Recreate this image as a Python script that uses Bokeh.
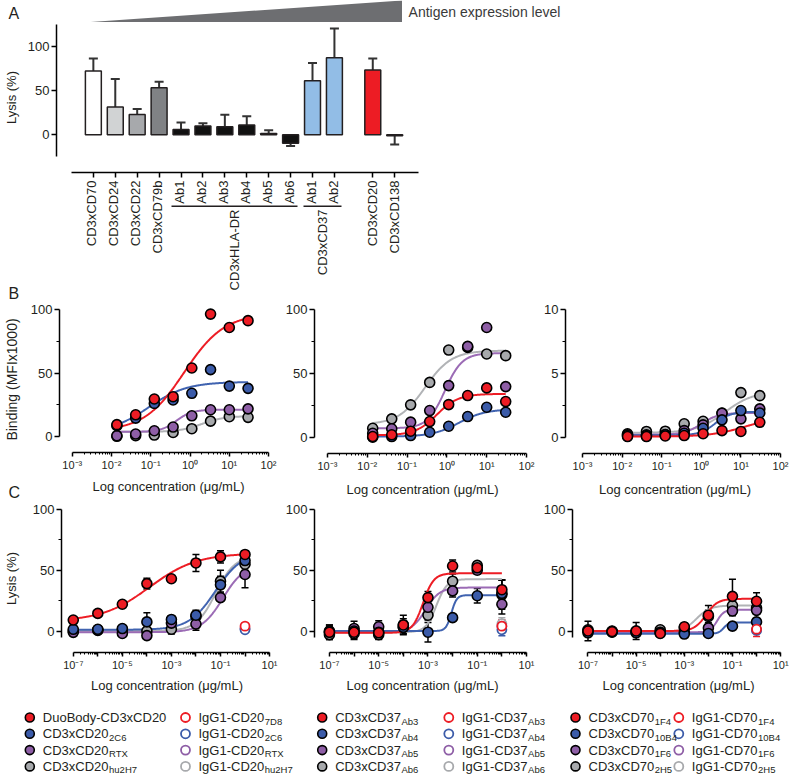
import math
import numpy as np
from bokeh.plotting import figure
from bokeh.models import (Range1d, FixedTicker, CustomJSTickFormatter, Whisker, TeeHead,
                          ColumnDataSource)
from bokeh.layouts import row, column
from bokeh.embed import file_html
from bokeh.resources import INLINE
from bokeh.core.properties import value

FONT = "Liberation Sans"
INK = "#231f20"

# ---------------- DATA ----------------
# Panel A: lysis (%) per bispecific antibody
a_labels = ["CD3xCD70", "CD3xCD24", "CD3xCD22", "CD3xCD79b", "Ab1", "Ab2", "Ab3", "Ab4",
            "Ab5", "Ab6", "Ab1", "Ab2", "CD3xCD20", "CD3xCD138"]
a_slots = [0, 1, 2, 3, 4, 5, 6, 7, 8, 9, 10, 11, 12.75, 13.75]
a_lysis = [72, 31.5, 23, 53, 6, 10, 9, 11, 1.5, -9.5, 61, 87, 73, -1]
a_sd = [14, 31.5, 6, 7, 8, 3, 13.5, 10, 3.5, 3, 20, 33, 13, 10]
a_group_names = ["CD3xHLA-DR", "CD3xCD37"]
a_group_first = [4, 10]
a_group_last = [9, 11]
a_yticks = [0, 50, 100]
a_gradient_text = "Antigen expression level"

# Panel B: binding (MFI x1000), 3-fold dilutions (ug/mL)
b_conc = [0.0137, 0.0412, 0.123, 0.370, 1.11, 3.33, 10.0, 30.0]
b1_vals = {"red": [9.2, 17, 29.5, 31.3, 54, 96.6, 86, 91.4],
           "blue": [8.4, 14.4, 26, 28.7, 34, 52.7, 39.7, 37.9],
           "purple": [0.5, 1.8, 4.4, 7.3, 16.2, 21, 21, 21.7],
           "gray": [0, 0.5, 1, 3, 6, 12, 15.5, 15]}
b1_fit = {"red": (4, 97, -0.15, 0.85), "blue": (3, 43, -1.05, 0.9),
          "purple": (3.5, 21, -0.35, 2.2), "gray": (3.5, 16, 0.3, 1.5)}
b2_vals = {"red": [0.5, 1.9, 4.7, 12.3, 25.6, 32.7, 38.7, 28],
           "blue": [0, 0.5, 1.3, 3.9, 8.6, 16.2, 23.5, 19.6],
           "purple": [3.1, 6.6, 11.8, 20.9, 40.5, 71.3, 86.1, 39.7],
           "gray": [7, 14.4, 25.4, 43, 68.4, 70.5, 65.3, 64]}
b2_fit = {"red": (1.5, 34, -0.25, 1.6), "blue": (0.5, 22, 0.3, 1.3),
          "purple": (7, 66, -0.05, 2.0), "gray": (10, 68, -0.55, 1.3)}
b3_vals = {"red": [0.05, 0.05, 0.1, 0.13, 0.27, 0.52, 0.45, 1.17],
           "blue": [0.13, 0.13, 0.19, 0.31, 0.7, 1.36, 2.09, 1.9],
           "purple": [0.19, 0.19, 0.21, 0.52, 0.97, 1.88, 1.44, 2.22],
           "gray": [0.27, 0.45, 0.47, 1.05, 1.25, 1.9, 3.5, 3.26]}
b3_fit = {"red": (0.05, 1.6, 1.1, 1.0), "blue": (0.15, 2.0, 0.35, 2.2),
          "purple": (0.2, 1.9, 0.0, 2.0), "gray": (0.35, 3.6, 0.6, 1.2)}

# Panel C: lysis (%), 10-fold dilutions (ug/mL)
c_conc = [1e-7, 1e-6, 1e-5, 1e-4, 1e-3, 1e-2, 1e-1, 1.0]
c1_vals = {"red": [9, 14.5, 22, 39, 43, 56, 61, 63],
           "blue": [1.4, 1.4, 2, 7.5, 9.5, 13, 38, 58],
           "purple": [-1.1, 0.5, -2, -3.8, 6.5, 5.7, 27.5, 46.5],
           "gray": [0, 1, 1, 0, 1.5, 12, 41, 55]}
c1_sd = {"red": [1.5, 1.5, 2, 4.5, 2, 7, 5, 3],
         "blue": [2, 2, 2, 7.5, 2, 4, 7, 5],
         "purple": [1.5, 1.5, 2, 2, 5, 5, 3, 11],
         "gray": [1, 1, 2, 3, 4, 4, 9, 5]}
c1_fit = {"red": (8, 64, -3.9, 0.45), "blue": (1, 65, -1.2, 0.8),
          "purple": (-1, 55, -0.9, 1.0), "gray": (0, 62, -1.2, 1.1)}
c1_igg = {"red": 4, "blue": 1, "purple": 2, "gray": 2}
c1_igg_sd = {"red": 1, "blue": 1, "purple": 1, "gray": 1}

c2_vals = {"red": [-1, -1, -1.5, 5, 27.5, 53.5, 52, 34],
           "blue": [-1, 0, -1, 3, -1, 11, 29, 31],
           "purple": [0, 2, 3.5, 5, 19.5, 33, 50, 22],
           "gray": [-3, -2, -3, 3, 13, 41, 54, 30]}
c2_sd = {"red": [6, 6, 5, 8, 5, 5, 3, 8],
         "blue": [5, 5, 4, 5, 8, 2, 6, 11],
         "purple": [5, 6, 5, 5, 4, 5, 3, 8],
         "gray": [4, 4, 4, 5, 4, 6, 3, 12]}
c2_fit = {"red": (-1.5, 47.5, -3.2, 2.0), "blue": (0, 29.5, -2.05, 4.0),
          "purple": (-1, 35.8, -3.1, 1.5), "gray": (-1, 42.7, -2.66, 2.0)}
c2_igg = {"red": 4, "blue": 1, "purple": 4, "gray": 6}
c2_igg_sd = {"red": 5, "blue": 5, "purple": 5, "gray": 5}

c3_vals = {"red": [0, -0.5, 0, -2, 3.5, 13, 28.5, 24.5],
           "blue": [-1.5, -1, -1.5, -1.5, -2.5, -2, 4, 7.5],
           "purple": [0, -0.5, -1, -1, -1, 2.5, 16.5, 17],
           "gray": [1, 0, 0, 1, 2.5, 12, 21, 19]}
c3_sd = {"red": [8, 2, 7, 2, 3, 8, 14, 7],
         "blue": [2, 2, 2, 2, 2, 2, 2, 3],
         "purple": [2, 2, 2, 2, 2, 3, 4, 3],
         "gray": [2, 2, 2, 2, 3, 5, 6, 5]}
c3_fit = {"red": (0, 26.5, -2.1, 1.8), "blue": (-2.2, 7, -1.37, 4.0),
          "purple": (-1, 17.5, -1.64, 3.0), "gray": (-1, 21, -2.5, 1.5)}
c3_igg = {"red": 1.5, "blue": 0.5, "purple": 1, "gray": 1}
c3_igg_sd = {"red": 6, "blue": 2, "purple": 2, "gray": 2}

# Legend texts
leg_filled_main = [["DuoBody-CD3xCD20", "CD3xCD20", "CD3xCD20", "CD3xCD20"],
                   ["CD3xCD37"] * 4, ["CD3xCD70"] * 4]
leg_filled_sub = [["", "2C6", "RTX", "hu2H7"], ["Ab3", "Ab4", "Ab5", "Ab6"],
                  ["1F4", "10B4", "1F6", "2H5"]]
leg_open_main = [["IgG1-CD20"] * 4, ["IgG1-CD37"] * 4, ["IgG1-CD70"] * 4]
leg_open_sub = [["7D8", "2C6", "RTX", "hu2H7"], ["Ab3", "Ab4", "Ab5", "Ab6"],
                ["1F4", "10B4", "1F6", "2H5"]]

X_LABEL = "Log concentration (\u03bcg/mL)"

# ---------------- STYLE ----------------
ORDER = ["gray", "purple", "blue", "red"]
ROW_KEYS = ["red", "blue", "purple", "gray"]
PT = {"red": "#ed1c24", "blue": "#3b5ba9", "purple": "#8e5ea6", "gray": "#a7a9ac"}
LN = {"red": "#ed1c24", "blue": "#4063b0", "purple": "#9b6bb5", "gray": "#b1b3b6"}
A_FILLS = ["#ffffff", "#d1d3d4", "#a7a9ac", "#808285"] + ["#111111"] * 6 + \
          ["#92bde6"] * 2 + ["#ed1c24", "#ffffff"]
LETTER_SIZE = "16px"

SUP = """
const e = Math.round(Math.log10(tick));
if (odd_only && Math.abs(e % 2) != 1) { return ""; }
const sup = {"-": "\u207b", "0": "\u2070", "1": "\u00b9", "2": "\u00b2", "3": "\u00b3",
             "4": "\u2074", "5": "\u2075", "6": "\u2076", "7": "\u2077", "8": "\u2078", "9": "\u2079"};
let s = "";
for (const c of String(e)) { s += sup[c]; }
return "10" + s;
"""


def new_fig(**kw):
    p = figure(output_backend="svg", toolbar_location=None, **kw)
    try:
        p.frame_align = False
    except Exception:
        pass
    p.xgrid.visible = False
    p.ygrid.visible = False
    p.outline_line_color = None
    p.background_fill_color = "white"
    p.border_fill_color = "white"
    return p


def style_axes(p):
    for ax in list(p.xaxis) + list(p.yaxis):
        ax.axis_line_width = 1.5
        ax.axis_line_color = "black"
        ax.major_tick_line_width = 1.5
        ax.major_tick_line_color = "black"
        ax.minor_tick_line_width = 1
        ax.minor_tick_line_color = "black"
        ax.major_tick_in = 0
        ax.minor_tick_in = 0
        ax.major_label_text_font = FONT
        ax.major_label_text_font_size = "13px"
        ax.major_label_text_color = INK
        ax.axis_label_text_font = FONT
        ax.axis_label_text_font_size = "13px"
        ax.axis_label_text_font_style = "normal"
        ax.axis_label_text_color = INK


def put_letter(p, txt, x, y):
    p.text(x=[x], y=[y], text=[txt], text_font=value(FONT), text_font_size=LETTER_SIZE,
           text_baseline="middle", text_align="left", text_color=INK)


# ---------------- PANEL A ----------------
SLOT0_PX, SLOT_PX = 91.0, 22.0
A_W = 572
bw = 0.727
xl = a_slots[0] - bw / 2
xr = a_slots[-1] + bw / 2
full_xr = ((0 - SLOT0_PX) / SLOT_PX, (A_W - SLOT0_PX) / SLOT_PX)

# top strip: letter, gradient triangle, caption
sA = new_fig(width=A_W, height=22, x_range=Range1d(*full_xr), y_range=Range1d(22, 0),
             x_axis_location=None, y_axis_location=None, min_border=0)
sA.patch(x=[xl, xr, xr], y=[22, 22, 0], fill_color="#6d6e71", line_color=None)
put_letter(sA, "A", (8 - SLOT0_PX) / SLOT_PX, 12.5)
sA.text(x=[xr + 0.3], y=[11.5], text=[a_gradient_text], text_font=value(FONT),
        text_font_size="14px", text_baseline="middle", text_color="#3a3a3a")

# bars
a_ylo, a_yhi = -42.55, 126.75
pA = new_fig(width=A_W, height=156,
             x_range=Range1d((54 - SLOT0_PX) / SLOT_PX, full_xr[1]),
             y_range=Range1d(a_ylo, a_yhi),
             min_border_left=54, min_border_right=0, min_border_top=0, min_border_bottom=6)
style_axes(pA)
err_end = [v + (s if v >= 0 else -s) for v, s in zip(a_lysis, a_sd)]
srcA = ColumnDataSource(dict(x=a_slots, lo=a_lysis, hi=err_end))
pA.add_layout(Whisker(source=srcA, base="x", lower="lo", upper="hi", line_color="#333333",
                      line_width=2, lower_head=None,
                      upper_head=TeeHead(size=9, line_color="#333333", line_width=2)))
pA.vbar(x=a_slots, top=a_lysis, bottom=0, width=bw, fill_color=A_FILLS,
        line_color=INK, line_width=1.5)
pA.yaxis.ticker = FixedTicker(ticks=a_yticks)
pA.yaxis.bounds = (-25, 125)
pA.yaxis.major_tick_out = 5
pA.yaxis.major_label_standoff = 2
pA.yaxis.axis_label = "Lysis (%)"
pA.yaxis.axis_label_standoff = 6
pA.xaxis.ticker = FixedTicker(ticks=a_slots)
pA.xaxis.formatter = CustomJSTickFormatter(code="return ''")
pA.xaxis.major_label_text_font_size = "0px"
pA.xaxis.major_label_standoff = 0
pA.xaxis.bounds = (a_slots[0] - 1.0, a_slots[-1] + 1.07)
pA.xaxis.major_tick_out = 5

# category labels, group brackets, group names (and the next panel letter)
AL_H = 124
pAl = new_fig(width=A_W, height=AL_H, x_range=Range1d(*full_xr), y_range=Range1d(AL_H, 0),
              x_axis_location=None, y_axis_location=None, min_border=0)
pAl.text(x=a_slots, y=[2] * len(a_slots), text=a_labels, angle=math.pi / 2,
         text_align="right", text_baseline="middle", text_font=value(FONT),
         text_font_size="13px", text_color=INK)
gx0 = [a_slots[i] - bw / 2 for i in a_group_first]
gx1 = [a_slots[i] + bw / 2 for i in a_group_last]
gxc = [(a_slots[i] + a_slots[j]) / 2 for i, j in zip(a_group_first, a_group_last)]
pAl.segment(x0=gx0, y0=[27.7] * 2, x1=gx1, y1=[27.7] * 2, line_color=INK, line_width=1.5)
pAl.text(x=gxc, y=[31] * 2, text=a_group_names, angle=math.pi / 2, text_align="right",
         text_baseline="middle", text_font=value(FONT), text_font_size="13px", text_color=INK)
put_letter(pAl, "B", (8 - SLOT0_PX) / SLOT_PX, 114.5)


# ---------------- LOG PANELS ----------------
ROW_B = dict(fig_t=302, frm_t=306, frm_b=453, fig_b=501, y0=436.7, ytop=309.3, lo_frac=0.0)
ROW_C = dict(fig_t=501, frm_t=504, frm_b=652, fig_b=695, y0=630.5, ytop=509.0, lo_frac=-0.05)


def log_panel(fig_l, fig_r, frm_l, frm_r, first_px, ppd, first_exp, last_exp, rw, ymax,
              odd_only, xlabel_standoff, ylabel=None, ylabel_size="13px", ylabel_standoff=6,
              fig_b=None):
    fb = rw["fig_b"] if fig_b is None else fig_b
    ppu = (rw["y0"] - rw["ytop"]) / ymax
    y_lo = -(rw["frm_b"] - rw["y0"]) / ppu
    y_hi = (rw["y0"] - rw["frm_t"]) / ppu
    log_lo = first_exp - (first_px - frm_l) / ppd
    log_hi = first_exp + (frm_r - first_px) / ppd
    p = new_fig(width=fig_r - fig_l, height=fb - rw["fig_t"], x_axis_type="log",
                x_range=Range1d(10 ** log_lo, 10 ** log_hi), y_range=Range1d(y_lo, y_hi),
                min_border_left=int(round(frm_l - fig_l)),
                min_border_right=int(round(fig_r - frm_r)),
                min_border_top=rw["frm_t"] - rw["fig_t"],
                min_border_bottom=fb - rw["frm_b"])
    style_axes(p)
    majors = [10.0 ** e for e in range(first_exp, last_exp + 1)]
    minors = [m * 10.0 ** e for e in range(first_exp, last_exp) for m in range(2, 10)]
    p.xaxis.ticker = FixedTicker(ticks=majors, minor_ticks=minors)
    p.xaxis.formatter = CustomJSTickFormatter(args=dict(odd_only=odd_only), code=SUP)
    p.xaxis.bounds = (majors[0], majors[-1])
    p.xaxis.major_tick_out = 4
    p.xaxis.minor_tick_out = 2
    p.xaxis.major_label_standoff = 2
    p.xaxis.major_label_text_font_size = "11px"
    if xlabel_standoff is not None:
        p.xaxis.axis_label = X_LABEL
        p.xaxis.axis_label_standoff = xlabel_standoff
    p.yaxis.ticker = FixedTicker(ticks=[0, ymax / 2, ymax], minor_ticks=[ymax / 4, 3 * ymax / 4])
    p.yaxis.bounds = (rw["lo_frac"] * ymax, ymax)
    p.yaxis.major_tick_out = 5
    p.yaxis.minor_tick_out = 3
    p.yaxis.major_label_standoff = 2
    if ylabel:
        p.yaxis.axis_label = ylabel
        p.yaxis.axis_label_text_font_size = ylabel_size
        p.yaxis.axis_label_standoff = ylabel_standoff
    return p


def draw_series(p, conc, vals, fits, sd=None, igg=None, igg_sd=None):
    lx = np.linspace(math.log10(min(conc)), math.log10(max(conc)), 240)
    for key in ORDER:
        b, t, ec, h = fits[key]
        p.line(10 ** lx, b + (t - b) / (1 + 10 ** ((ec - lx) * h)), line_color=LN[key],
               line_width=2)
    if sd is not None:
        for key in ORDER:
            src = ColumnDataSource(dict(x=conc,
                                        lo=[v - s for v, s in zip(vals[key], sd[key])],
                                        hi=[v + s for v, s in zip(vals[key], sd[key])]))
            p.add_layout(Whisker(source=src, base="x", lower="lo", upper="hi",
                                 line_color="black", line_width=1.5,
                                 upper_head=TeeHead(size=7, line_color="black", line_width=1.5),
                                 lower_head=TeeHead(size=7, line_color="black", line_width=1.5)))
    for key in ORDER:
        p.scatter(conc, vals[key], size=10, fill_color=PT[key], line_color="black",
                  line_width=1.6)
    if igg is not None:
        for key in ORDER:
            src = ColumnDataSource(dict(x=[conc[-1]], lo=[igg[key] - igg_sd[key]],
                                        hi=[igg[key] + igg_sd[key]]))
            p.add_layout(Whisker(source=src, base="x", lower="lo", upper="hi",
                                 line_color=PT[key], line_width=1.5,
                                 upper_head=TeeHead(size=7, line_color=PT[key], line_width=1.5),
                                 lower_head=TeeHead(size=7, line_color=PT[key], line_width=1.5)))
            p.scatter([conc[-1]], [igg[key]], size=9, fill_color="white", line_color=PT[key],
                      line_width=1.8)


B1_BOTTOM = 473
pB1 = log_panel(0, 282, 55, 272, 68, 40, -3, 2, ROW_B, 100, False, None,
                "Binding (MFIx1000)", "14px", 8, fig_b=B1_BOTTOM)
pB2 = log_panel(282, 540, 313, 530, 326, 40, -3, 2, ROW_B, 100, False, 7)
pB3 = log_panel(540, 796, 565, 784, 582, 39.6, -3, 2, ROW_B, 10, False, 7)
draw_series(pB1, b_conc, b1_vals, b1_fit)
draw_series(pB2, b_conc, b2_vals, b2_fit)
draw_series(pB3, b_conc, b3_vals, b3_fit)

# strip under B1: its x-axis title and the letter of panel C
SB_H = ROW_B["fig_b"] - B1_BOTTOM
sBC = new_fig(width=282, height=SB_H, x_range=Range1d(0, 282), y_range=Range1d(SB_H, 0),
              x_axis_location=None, y_axis_location=None, min_border=0)
sBC.text(x=[(68 + 268) / 2], y=[13], text=[X_LABEL], text_font=value(FONT),
         text_font_size="13px", text_align="center", text_baseline="middle", text_color=INK)
put_letter(sBC, "C", 8, 18.6)

pC1 = log_panel(0, 282, 57, 272, 69, 25, -7, 1, ROW_C, 100, True, 4, "Lysis (%)", "13px", 11)
pC2 = log_panel(282, 540, 313, 530, 328, 24.75, -7, 1, ROW_C, 100, True, 4)
pC3 = log_panel(540, 796, 565, 784, 581, 24.875, -7, 1, ROW_C, 100, True, 4)
draw_series(pC1, c_conc, c1_vals, c1_fit, c1_sd, c1_igg, c1_igg_sd)
draw_series(pC2, c_conc, c2_vals, c2_fit, c2_sd, c2_igg, c2_igg_sd)
draw_series(pC3, c_conc, c3_vals, c3_fit, c3_sd, c3_igg, c3_igg_sd)

# ---------------- LEGEND ----------------
AW = {"C": 722, "D": 722, "x": 500, "I": 278, "g": 556, "G": 778, "-": 333, "u": 556,
      "o": 556, "B": 667, "d": 556, "y": 500}


def tw(s, size):
    return sum(AW.get(c, 556) for c in s) * size / 1000.0


LW, LH = 796, 82
pL = new_fig(width=LW, height=LH, x_range=Range1d(0, LW), y_range=Range1d(LH, 0),
             x_axis_location=None, y_axis_location=None, min_border=0)
col_filled_mark = [29.3, 321.7, 575]
col_open_mark = [185, 448.3, 678.3]
row_y = [22, 38.3, 54.6, 70.9]
mx, my, mc, ox, oy, oc = [], [], [], [], [], []
tx, ty, tt, sx, sy, st = [], [], [], [], [], []
for g in range(3):
    for r, key in enumerate(ROW_KEYS):
        for marks, mains, subs, filled in ((col_filled_mark, leg_filled_main, leg_filled_sub, True),
                                           (col_open_mark, leg_open_main, leg_open_sub, False)):
            x_m = marks[g]
            if filled:
                mx.append(x_m); my.append(row_y[r]); mc.append(PT[key])
            else:
                ox.append(x_m); oy.append(row_y[r]); oc.append(PT[key])
            x_t = x_m + 13
            tx.append(x_t); ty.append(row_y[r]); tt.append(mains[g][r])
            if subs[g][r]:
                sx.append(x_t + tw(mains[g][r], 13) + 0.5)
                sy.append(row_y[r] + 3.5)
                st.append(subs[g][r])
pL.scatter(mx, my, size=9, fill_color=mc, line_color="black", line_width=1.6)
pL.scatter(ox, oy, size=9, fill_color="white", line_color=oc, line_width=1.8)
pL.text(x=tx, y=ty, text=tt, text_font=value(FONT), text_font_size="13px",
        text_baseline="middle", text_align="left", text_color=INK)
pL.text(x=sx, y=sy, text=st, text_font=value(FONT), text_font_size="9.5px",
        text_baseline="middle", text_align="left", text_color=INK)

layout = column(sA, pA, pAl,
                row(column(pB1, sBC), pB2, pB3),
                row(pC1, pC2, pC3),
                pL)
open("out.html", "w").write(file_html(layout, INLINE))
